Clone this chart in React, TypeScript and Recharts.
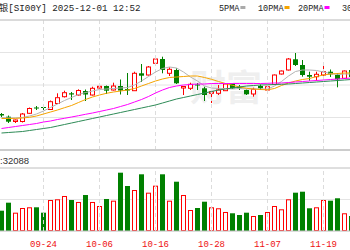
import React from 'react';
import { ComposedChart, Bar, Line, XAxis, YAxis, CartesianGrid, ReferenceLine } from 'recharts';

// daily candles, 09-16 .. 11-25 (visible window)
const dates = [
  '09-16', '09-17', '09-18', '09-19', '09-22', '09-23', '09-24', '09-25', '09-26', '09-29', '09-30',
  '10-01', '10-02', '10-03', '10-06', '10-07', '10-08', '10-09', '10-10', '10-13', '10-14', '10-15',
  '10-16', '10-17', '10-20', '10-21', '10-22', '10-23', '10-24', '10-27', '10-28', '10-29', '10-30',
  '10-31', '11-03', '11-04', '11-05', '11-06', '11-07', '11-10', '11-11', '11-12', '11-13', '11-14',
  '11-17', '11-18', '11-19', '11-20', '11-21', '11-24', '11-25',
];
const opens = [
  43.2, 42.66, 41.7, 41.7, 43.34, 44.5, 44.6, 44.1, 45.3, 46.66, 47.34, 47.0, 47.8, 47.0, 48.4, 48.8, 48.0,
  48.8, 48.2, 47.86, 51.34, 51.0, 53.34, 54.2, 51.34, 52.0, 48.4, 48.34, 49.1, 48.34, 47.34, 47.34, 47.86,
  49.2, 48.66, 48.0, 47.2, 48.8, 48.0, 49.1, 51.2, 52.0, 54.14, 53.0, 51.0, 50.66, 51.0, 51.66, 51.0, 50.34, 52.0,
];
const highs = [
  43.4, 42.9, 42.1, 43.4, 44.5, 44.8, 44.9, 45.9, 47.34, 47.86, 47.6, 48.14, 48.1, 48.66, 48.9, 48.9, 49.46,
  50.1, 51.4, 51.66, 53.2, 52.8, 54.54, 54.66, 52.54, 52.34, 48.8, 49.46, 49.4, 48.66, 47.8, 49.0, 49.3,
  49.3, 49.0, 48.1, 48.46, 49.1, 48.9, 51.1, 51.9, 54.4, 55.4, 54.0, 51.66, 51.66, 53.14, 52.1, 51.34, 51.9, 52.4,
];
const lows = [
  42.6, 41.4, 41.4, 41.5, 43.2, 44.0, 44.0, 44.0, 45.2, 46.5, 46.0, 46.9, 45.8, 46.9, 48.3, 47.2, 47.9,
  47.1, 47.0, 47.8, 49.6, 50.9, 53.3, 51.34, 50.8, 49.2, 47.0, 48.0, 48.0, 45.8, 45.4, 47.0, 47.8,
  48.2, 48.0, 47.0, 46.66, 48.0, 47.86, 49.0, 51.1, 51.9, 52.8, 50.66, 49.86, 49.86, 50.66, 50.6, 48.54, 50.2, 50.0,
];
const closes = [
  42.9, 41.66, 42.0, 43.2, 44.3, 44.34, 44.44, 45.66, 46.46, 47.46, 47.1, 47.9, 47.1, 48.34, 48.74, 47.86, 48.8,
  47.9, 47.9, 51.34, 50.86, 52.6, 54.2, 52.0, 52.14, 49.34, 48.7, 49.14, 48.9, 47.0, 47.66, 48.0, 49.2,
  48.34, 48.34, 47.14, 48.14, 48.34, 48.66, 51.0, 51.8, 54.2, 53.0, 51.0, 50.66, 51.14, 51.66, 51.14, 50.14, 51.8, 50.6,
];
const ma5 = [
  42.5, 42.4, 42.4, 42.5, 42.8, 43.2, 43.8, 44.5, 45.2, 45.9, 46.5, 47.1, 47.5, 47.8, 48.1, 48.2, 48.3,
  48.4, 48.5, 49.0, 49.8, 50.7, 51.6, 52.3, 52.6, 52.4, 51.6, 50.6, 49.8, 48.8, 48.4, 48.3, 48.3,
  48.2, 48.3, 48.2, 48.2, 48.2, 48.2, 48.8, 49.7, 50.8, 51.7, 52.0, 52.0, 51.9, 51.6, 51.3, 51.1, 51.2, 51.2,
];
const ma10 = [
  42.3, 42.3, 42.34, 42.4, 42.54, 42.8, 43.2, 43.6, 44.0, 44.46, 44.9, 45.5, 46.1, 46.6, 47.0, 47.34, 47.6,
  47.8, 48.0, 48.3, 48.8, 49.3, 49.8, 50.2, 50.5, 50.6, 50.7, 50.8, 50.8, 50.5, 50.14, 49.7, 49.3,
  48.94, 48.6, 48.34, 48.2, 48.1, 48.04, 48.3, 48.9, 49.4, 49.8, 50.1, 50.3, 50.7, 51.0, 51.2, 51.3, 51.4, 51.4,
];
const ma20 = [
  40.3, 40.5, 40.7, 40.9, 41.1, 41.3, 41.6, 41.8, 42.1, 42.34, 42.6, 42.86, 43.14, 43.4, 43.7, 44.0, 44.3,
  44.7, 45.1, 45.6, 46.1, 46.7, 47.4, 48.0, 48.5, 48.8, 49.0, 49.1, 49.2, 49.2, 49.3, 49.3, 49.3,
  49.3, 49.3, 49.3, 49.3, 49.3, 49.34, 49.4, 49.4, 49.5, 49.6, 49.7, 49.8, 49.9, 50.0, 50.1, 50.2, 50.3, 50.4,
];
const ma30 = [
  39.4, 39.5, 39.6, 39.7, 39.9, 40.1, 40.3, 40.5, 40.8, 41.1, 41.4, 41.7, 42.0, 42.3, 42.6, 42.9, 43.2,
  43.5, 43.8, 44.1, 44.4, 44.7, 45.0, 45.4, 45.8, 46.2, 46.5, 46.8, 47.1, 47.4, 47.7, 48.0, 48.2,
  48.4, 48.6, 48.8, 48.9, 49.0, 49.04, 49.1, 49.14, 49.2, 49.3, 49.4, 49.5, 49.6, 49.7, 49.8, 49.9, 50.0, 50.1,
];
const volumes = [
  51600, 71900, 46500, 58400, 60200, 60200, 46500, 78700, 80500, 88900, 78700, 73700, 91400, 73700, 63500,
  81300, 77000, 148100, 114300, 104100, 144000, 97300, 115100, 144000, 77000, 125200, 91400, 53300, 58400,
  74400, 60200, 57700, 48300, 45000, 40600, 46500, 38100, 40600, 48300, 63500, 55100, 80500, 97300, 99800,
  57700, 60200, 78700, 77000, 83100, 45000, 38100,
];
const dateTicks = ['09-24', '10-06', '10-16', '10-28', '11-07', '11-19'];
const priceTicks = [36, 39.25, 42.5, 45.75, 49, 52.25, 55.5, 58.75, 62];
const volumeTicks = [0, 40000, 80000, 120000, 160000];

const RED = '#ff0000';
const GREEN = '#008000';
const MONO = '"Liberation Mono", "Noto Sans CJK SC", monospace';

const rows = dates.map((date, i) => ({
  date,
  open: opens[i],
  high: highs[i],
  low: lows[i],
  close: closes[i],
  span: [lows[i], highs[i]],
  ma5: ma5[i],
  ma10: ma10[i],
  ma20: ma20[i],
  ma30: ma30[i],
  volume: volumes[i],
}));

const CandleShape = (props: any) => {
  const { x, y, width, height } = props;
  const d = props.payload ?? props;
  const top = Math.min(y, y + height);
  const h = Math.abs(height);
  const toY = (v: number) => (d.high === d.low ? top : top + ((d.high - v) / (d.high - d.low)) * h);
  const cx = Math.floor(x + width / 2) + 0.5;
  const bTop = toY(Math.max(d.open, d.close));
  const bBot = toY(Math.min(d.open, d.close));
  if (d.close >= d.open) {
    return (
      <g>
        <line x1={cx} x2={cx} y1={top} y2={bTop} stroke={RED} />
        <line x1={cx} x2={cx} y1={bBot} y2={top + h} stroke={RED} />
        <rect x={x + 0.5} y={bTop} width={width - 1} height={Math.max(bBot - bTop, 1)} fill="#fff" stroke={RED} />
      </g>
    );
  }
  return (
    <g>
      <line x1={cx} x2={cx} y1={top} y2={top + h} stroke={GREEN} />
      <rect x={x} y={bTop} width={width} height={Math.max(bBot - bTop, 1)} fill={GREEN} />
    </g>
  );
};

const VolumeShape = (props: any) => {
  const { x, y, width, height } = props;
  const d = props.payload ?? props;
  if (d.close >= d.open) {
    return <rect x={x + 0.5} y={y + 0.5} width={width - 1} height={Math.max(height - 1, 0)} fill="#fff" stroke={RED} />;
  }
  return <rect x={x} y={y} width={width} height={height} fill={GREEN} />;
};

const DateTick = ({ x, y, payload }: any) => (
  <text x={x} y={y + 1.5} dy="0.71em" textAnchor="middle" fill="#ee1111" fontSize={9} fontFamily={MONO}>
    {payload.value}
  </text>
);

const legendItems = [
  { label: '5PMA', color: '#aaaaaa', x: 219 },
  { label: '10PMA', color: '#f5a400', x: 258 },
  { label: '20PMA', color: '#ff00ff', x: 298 },
  { label: '30PMA', color: '#2e8b57', x: 342 },
];

export default function App() {
  return (
    <div style={{ position: 'absolute', left: 0, top: 0, width: 350, height: 250, overflow: 'hidden', background: '#fff' }}>
      {/* watermark */}
      <svg width={350} height={250} style={{ position: 'absolute', left: 0, top: 0 }}>
        <text x={190} y={101} fontSize={36} fontWeight="bold" fill="#efefef" fontFamily='"Noto Sans CJK SC", sans-serif'>
          财富
        </text>
      </svg>

      <div style={{ position: 'absolute', left: -2, top: 0 }}>
        <ComposedChart width={357} height={160} data={rows} margin={{ top: 20, right: 0, bottom: 10, left: 0 }}>
          <CartesianGrid vertical={false} stroke="#e4e4e4" />
          <XAxis dataKey="date" hide />
          <YAxis hide domain={[36, 62]} ticks={priceTicks} />
          {dateTicks.map((t) => (
            <ReferenceLine key={t} x={t} stroke="#dcdcdc" strokeDasharray="4 3" />
          ))}
          <ReferenceLine y={62} stroke="#c4c4c4" />
          <ReferenceLine y={36} stroke="#cccccc" strokeWidth={2} />
          <Bar dataKey="span" barSize={5} shape={CandleShape} isAnimationActive={false} />
          <Line dataKey="ma5" stroke="#b4b4b4" dot={false} strokeWidth={1} isAnimationActive={false} />
          <Line dataKey="ma10" stroke="#f5a400" dot={false} strokeWidth={1} isAnimationActive={false} />
          <Line dataKey="ma20" stroke="#ff00ff" dot={false} strokeWidth={1} isAnimationActive={false} />
          <Line dataKey="ma30" stroke="#2e8b57" dot={false} strokeWidth={1} isAnimationActive={false} />
        </ComposedChart>
      </div>

      <div style={{ position: 'absolute', left: -2, top: 160 }}>
        <ComposedChart width={357} height={90} data={rows} margin={{ top: 8, right: 0, bottom: 0, left: 0 }}>
          <CartesianGrid vertical={false} stroke="#e4e4e4" />
          <XAxis
            dataKey="date"
            ticks={dateTicks}
            interval={0}
            height={19}
            tickLine={false}
            axisLine={{ stroke: '#c8c8c8' }}
            tick={<DateTick />}
          />
          <YAxis hide domain={[0, 160000]} ticks={volumeTicks} />
          {dateTicks.map((t) => (
            <ReferenceLine key={t} x={t} stroke="#dcdcdc" strokeDasharray="4 3" />
          ))}
          <ReferenceLine y={160000} stroke="#cccccc" />
          <Bar dataKey="volume" barSize={5} shape={VolumeShape} isAnimationActive={false} />
        </ComposedChart>
      </div>

      <svg width={350} height={250} style={{ position: 'absolute', left: 0, top: 0, pointerEvents: 'none' }}>
        <text x={-1} y={10.5} fontSize={9.2} fill="#222" fontFamily={MONO}>
          银[SI00Y] 2025-12-01 12:52
        </text>
        {legendItems.map((it) => (
          <g key={it.label}>
            <text x={it.x} y={10.5} fontSize={8.5} fill="#222" fontFamily={MONO}>
              {it.label}
            </text>
            <rect x={it.x + it.label.length * 5.1 + 1} y={6} width={5} height={3} fill={it.color} />
          </g>
        ))}
        <text x={0} y={163.5} fontSize={9.5} fill="#333" fontFamily='"Liberation Sans", Arial, sans-serif'>
          :32088
        </text>
      </svg>
    </div>
  );
}
